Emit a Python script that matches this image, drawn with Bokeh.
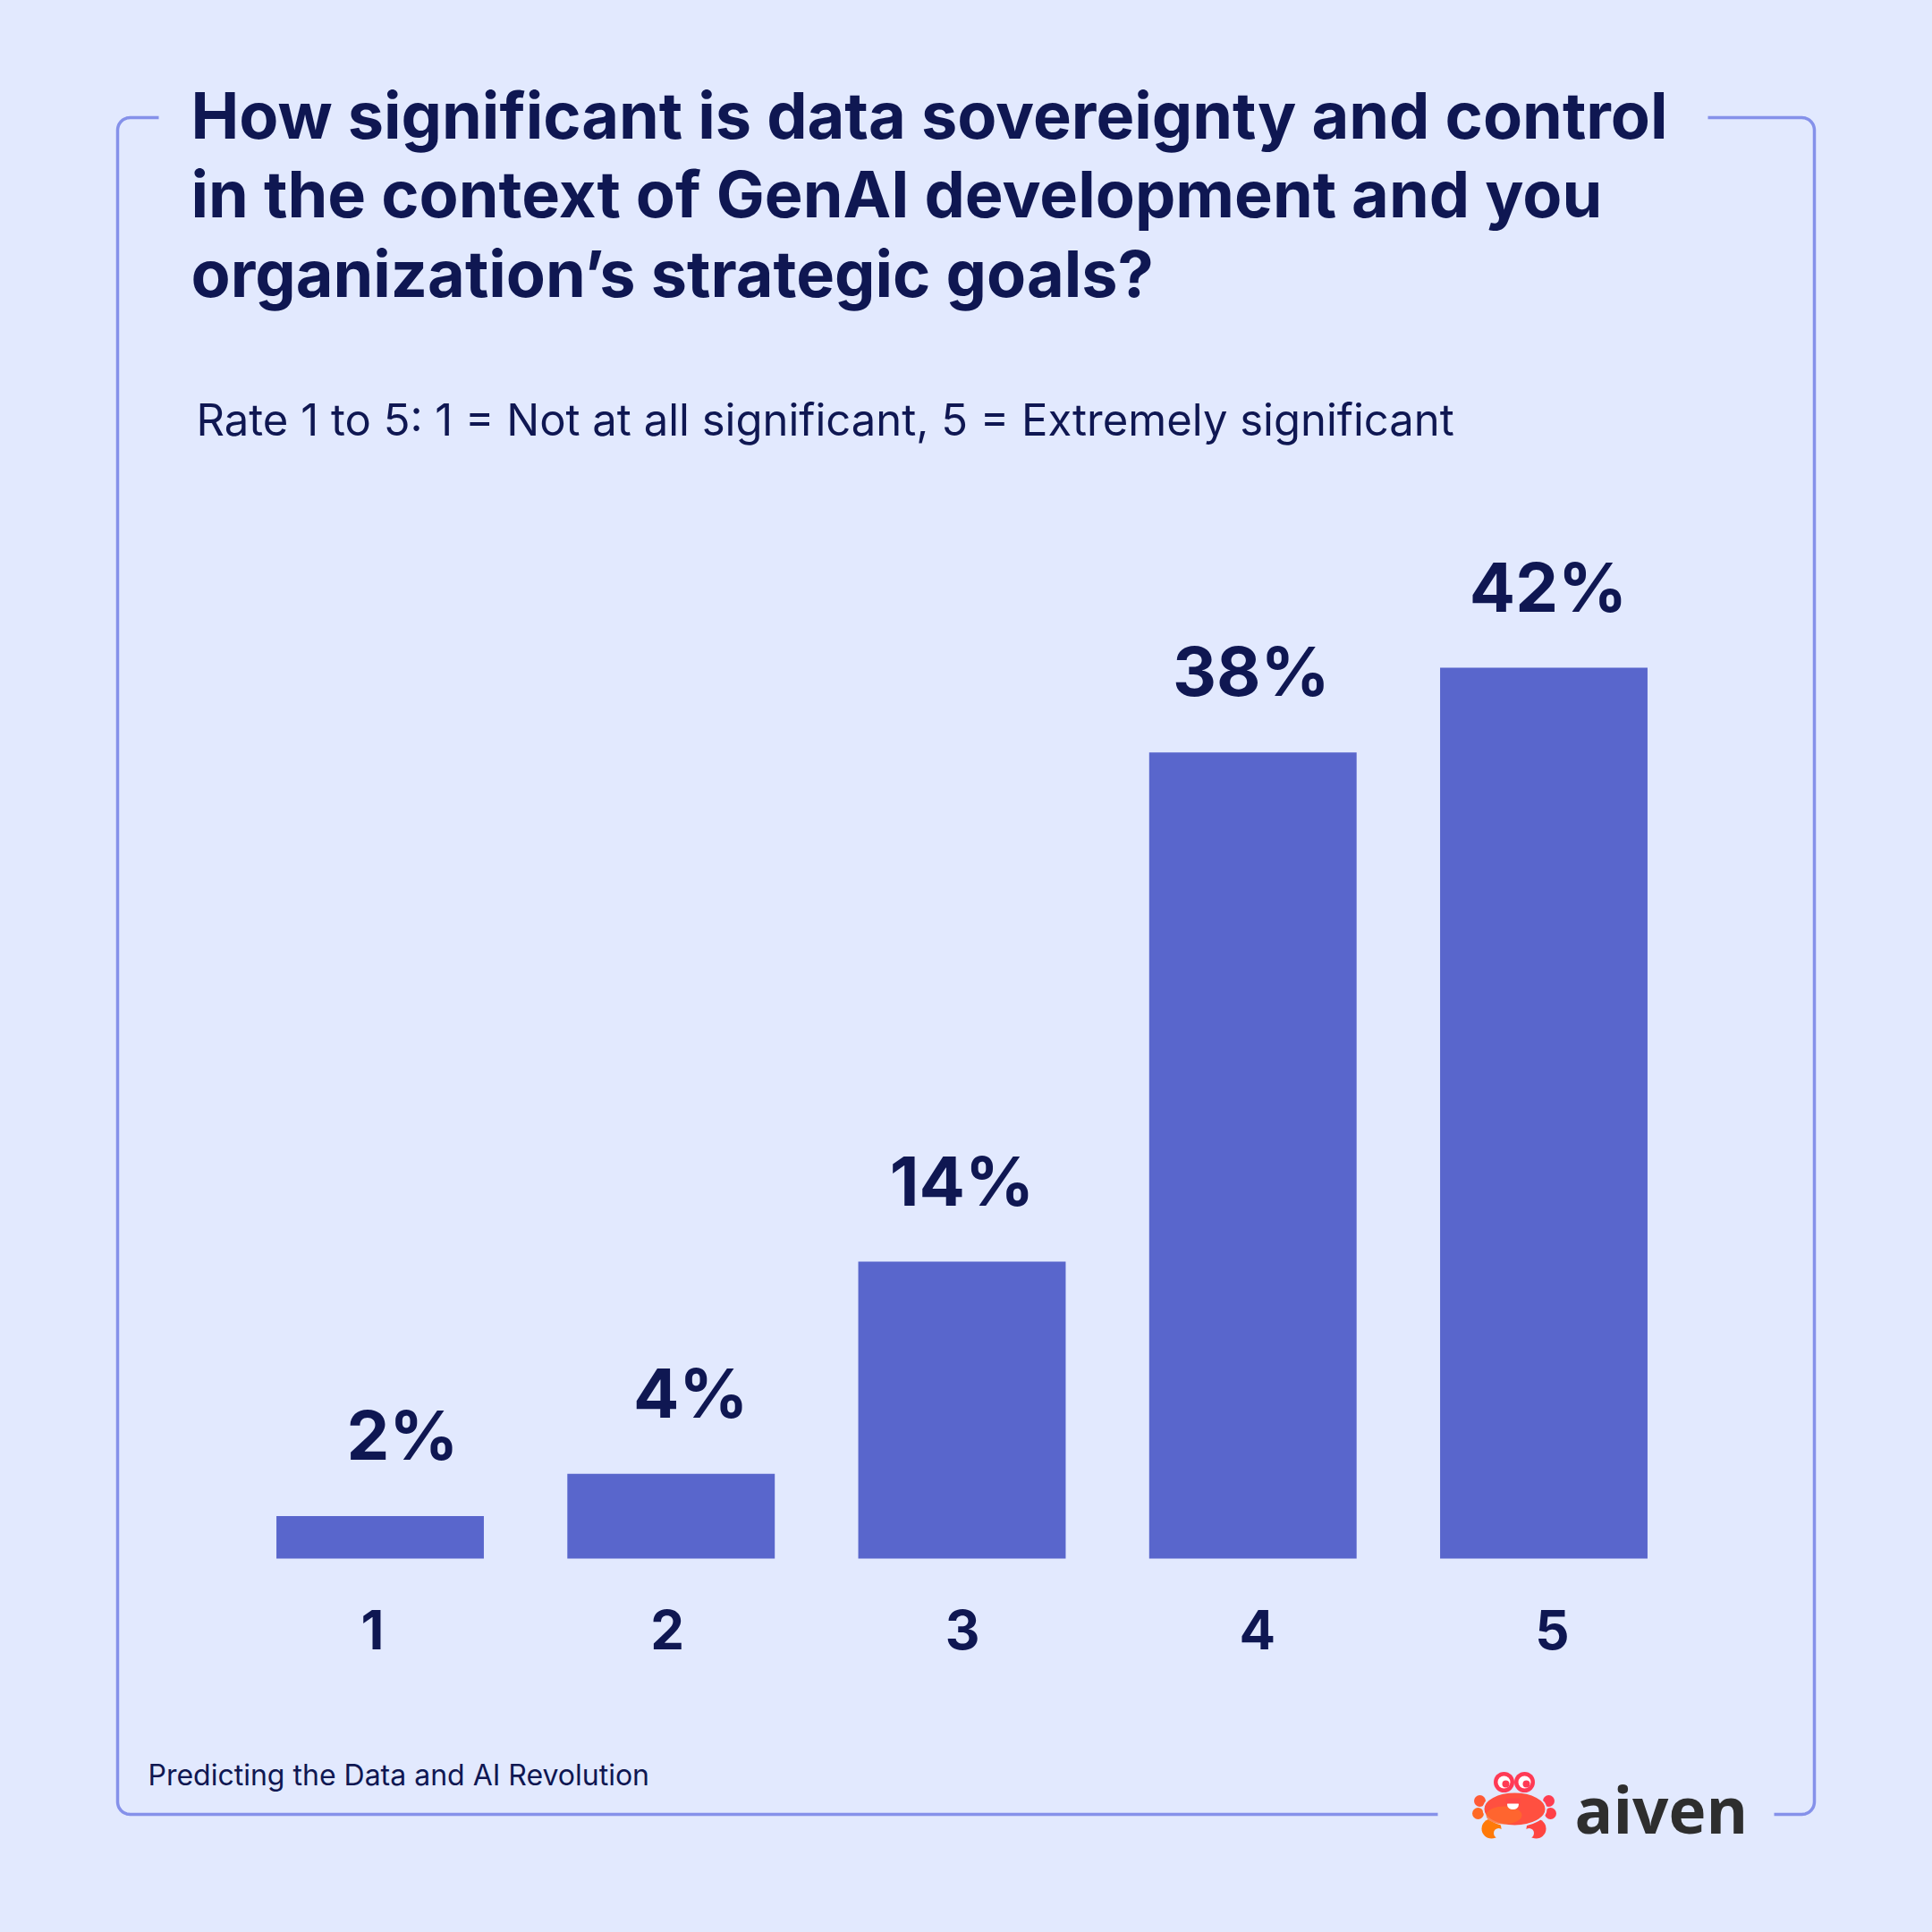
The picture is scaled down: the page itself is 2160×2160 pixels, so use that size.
import numpy as np
from bokeh.plotting import figure
from bokeh.models import Range1d, ColumnDataSource, GlobalInlineStyleSheet
from bokeh.core.properties import value
from bokeh.embed import file_html
from bokeh.resources import INLINE

# ---------------- data ----------------
categories = ["1", "2", "3", "4", "5"]
percentages = [2, 4, 14, 38, 42]
value_labels = [f"{v}%" for v in percentages]

title_lines = [
    "How significant is data sovereignty and control",
    "in the context of GenAI development and you",
    "organization\u2019s strategic goals?",
]
subtitle = "Rate 1 to 5: 1 = Not at all significant, 5 = Extremely significant"
footer = "Predicting the Data and AI Revolution"
brand = "aiven"

# ---------------- style / layout ----------------
BG = "#e2e9fe"
BAR = "#5966cc"
NAVY = "#0f1752"
FRAME = "#8591ea"
FONT = "Inter"
FIX = 0.38  # baseline compensation (fraction of font size)
LABEL_NUDGE = [25, 22, 0, -2, 5]  # horizontal nudges of the value labels, px

W = H = 2160

p = figure(width=W, height=H, output_backend="svg", toolbar_location=None,
           x_range=Range1d(0, W), y_range=Range1d(H, 0),
           x_axis_location=None, y_axis_location=None, min_border=0)
p.grid.visible = False
p.outline_line_color = None
p.background_fill_color = BG
p.border_fill_color = BG
p.stylesheets = [GlobalInlineStyleSheet(css=f"html, body {{ background: {BG}; }}")]

# ---- chart scales ----
first_center, slot = 424.5, 325.25          # bar slots (px)
tick_center3, tick_slot = 1075.5, 329.75    # category-label slots (px)
base_y, px_per_pct = 1742.0, 996.0 / 42.0
n = len(categories)
pos = np.arange(n) + 1.0
p.extra_x_ranges = {
    "cat": Range1d(1 + (0 - first_center) / slot, 1 + (W - first_center) / slot),
    "tick": Range1d(3 + (0 - tick_center3) / tick_slot, 3 + (W - tick_center3) / tick_slot),
}
p.extra_y_ranges = {"pct": Range1d(-(H - base_y) / px_per_pct, base_y / px_per_pct)}

src = ColumnDataSource(dict(pos=pos, value=percentages, label=value_labels,
                            cat=categories, nudge=LABEL_NUDGE))

p.vbar(x="pos", top="value", bottom=0, width=0.713, source=src,
       x_range_name="cat", y_range_name="pct", fill_color=BAR, line_color=None)

VS = 76
p.text(x="pos", y="value", text="label", source=src, x_range_name="cat", y_range_name="pct",
       x_offset="nudge", text_align="center", text_baseline="alphabetic", y_offset=-62 - FIX * VS,
       text_font=value(FONT), text_font_style="bold", text_font_size=f"{VS}px", text_color=NAVY)

CS = 60
p.text(x=pos, y=[0] * n, text=categories, x_range_name="tick", y_range_name="pct",
       text_align="center", text_baseline="alphabetic", y_offset=102 - FIX * CS,
       text_font=value(FONT), text_font_style="bold", text_font_size=f"{CS}px", text_color=NAVY)

# ---- title / subtitle / footer ----
TS, SS, FS = 72, 49, 32
p.text(x=[213] * 3, y=[155 - FIX * TS, 243.5 - FIX * TS, 332 - FIX * TS], text=title_lines,
       text_align="left", text_baseline="alphabetic",
       text_font=value(FONT), text_font_style="bold", text_font_size=f"{TS}px", text_color=NAVY)
p.text(x=[219], y=[488 - FIX * SS], text=[subtitle], text_align="left", text_baseline="alphabetic",
       text_font=value(FONT), text_font_size=f"{SS}px", text_color=NAVY)
p.text(x=[165], y=[1996 - FIX * FS], text=[footer], text_align="left", text_baseline="alphabetic",
       text_font=value(FONT), text_font_size=f"{FS}px", text_color=NAVY)

# ---- rounded frame with gaps ----
L, R, T, B, r = 131, 2028, 131, 2028, 14
def arc(cx, cy, a0, a1, k=12):
    a = np.linspace(a0, a1, k)
    return list(cx + r * np.cos(a)), list(cy + r * np.sin(a))

xs, ys = [177], [T]
ax, ay = arc(L + r, T + r, -np.pi / 2, -np.pi); xs += ax; ys += ay
ax, ay = arc(L + r, B - r, np.pi, np.pi / 2); xs += ax; ys += ay
xs += [1607]; ys += [B]
p.line(xs, ys, line_color=FRAME, line_width=3.5, line_join="round")
xs, ys = [1983], [B]
ax, ay = arc(R - r, B - r, np.pi / 2, 0); xs += ax; ys += ay
ax, ay = arc(R - r, T + r, 0, -np.pi / 2); xs += ax; ys += ay
xs += [1909]; ys += [T]
p.line(xs, ys, line_color=FRAME, line_width=3.5, line_join="round")

# ---- logo (crab) ----
cx, cy = 1693, 2022
p.circle(x=[cx - 39, cx - 41, cx + 38, cx + 40], y=[cy - 9, cy + 5, cy - 9, cy + 5], radius=6.5,
         fill_color=["#ff5a35", "#ff6a25", "#ff3d50", "#ff4048"], line_color=None)
p.circle(x=[cx - 26, cx + 24], y=[cy + 22, cy + 22], radius=11,
         fill_color=["#ff7a08", "#ff4540"], line_color=None)
p.circle(x=[cx - 18, cx + 16], y=[cy + 27, cy + 27], radius=5.5, fill_color=BG, line_color=None)
p.ellipse(x=[cx], y=[cy], width=70, height=38, fill_color="#ff5040", line_color=BG, line_width=2)
p.ellipse(x=[cx - 12], y=[cy + 7], width=40, height=20, fill_color="#ff6a2a", line_color=None, fill_alpha=0.8)
p.ellipse(x=[cx - 2], y=[cy - 5], width=13, height=11, fill_color="white", line_color=None)
p.rect(x=[cx - 2], y=[cy - 9], width=16, height=6, fill_color="#ff4848", line_color=None)
p.circle(x=[cx - 12, cx + 11], y=[cy - 30, cy - 30], radius=11.5, fill_color="#ff3a55", line_color=None)
p.circle(x=[cx - 12, cx + 11], y=[cy - 30, cy - 30], radius=7, fill_color="white", line_color=None)
p.circle(x=[cx - 10, cx + 13], y=[cy - 28, cy - 28], radius=4, fill_color="#ff3a55", line_color=None)

BS = 71
p.text(x=[1760], y=[2045 - 0.33 * BS], text=[brand], text_align="left", text_baseline="alphabetic",
       text_font=value("Open Sans"), text_font_style="bold", text_font_size=f"{BS}px",
       text_color="#2e2e2e")

open("out.html", "w").write(file_html(p, INLINE))
